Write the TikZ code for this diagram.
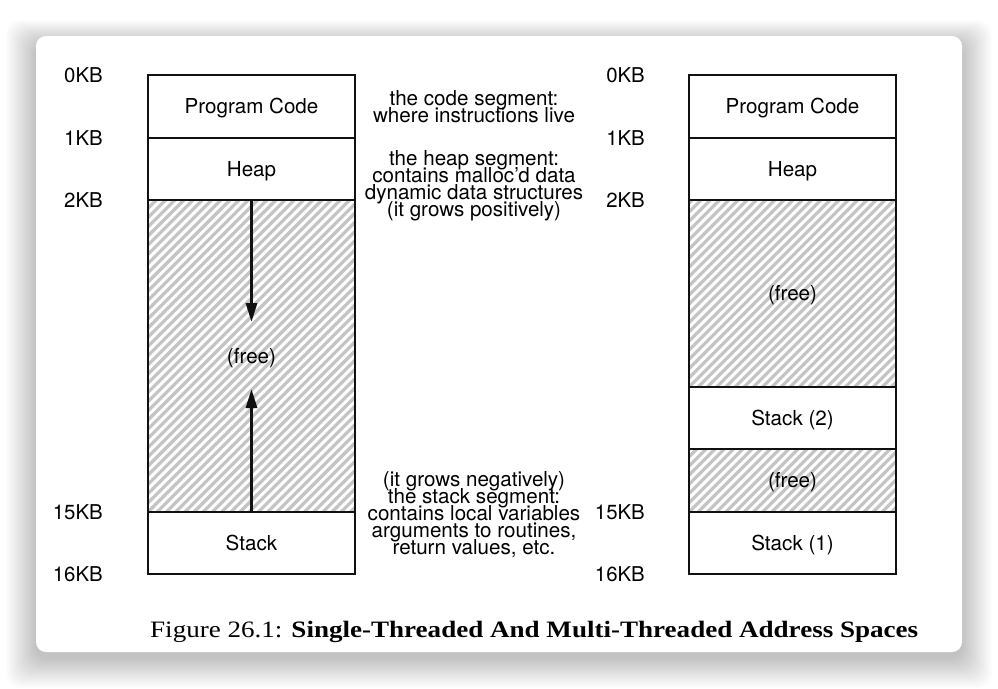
\documentclass[tikz,border=0pt]{standalone}
\usepackage{fontspec}
\setmainfont{TeX Gyre Heros}
\newfontfamily\capfont{Liberation Serif}
\usetikzlibrary{arrows.meta}
\definecolor{hatch}{HTML}{C4C4C4}
\definecolor{ink}{HTML}{111111}
\tikzset{
  seg/.style={draw=ink, line width=1.8pt, minimum width=207pt, inner sep=0pt, text height=14.5pt, text depth=0pt, font=\fontsize{20.6}{20}\selectfont},
  hatchline/.style={draw=hatch, line width=3.2pt},
  kb/.style={anchor=east, inner sep=0pt, text height=14.5pt, text depth=0pt, font=\fontsize{20.4}{20}\selectfont},
  note/.style={align=center, anchor=base, inner sep=0pt, font={\fontsize{20.6}{17}\selectfont\lineskiplimit=-30pt\lineskip=0pt}},
  growarrow/.style={line width=3pt, draw=ink, -{Triangle[length=19pt,width=11pt]}}
}
\newcommand{\hatchbox}[4]{% x1 y1 x2 y2 (y1 top, y2 bottom)
  \begin{scope}
    \clip (#1,#2) rectangle (#3,#4);
    \pgfmathsetmacro{\hh}{#4-#2}
    \foreach \k in {-40,...,40}{
      \draw[hatchline] ({#1+9.2*\k},#4) -- ++(\hh+60,-\hh-60);
    }
  \end{scope}
}
\begin{document}
\begin{tikzpicture}[x=1pt,y=-1pt]
\useasboundingbox (0,0) rectangle (998,688);
\fill[white] (0,0) rectangle (998,688);
% shadow
\foreach \i in {1,...,30}{
  \fill[black, opacity=0.0085, rounded corners=14] (36-\i,36-0.8*\i+8) rectangle (962+\i,652+\i+6);
}
\fill[white, rounded corners=10] (36,36) rectangle (962,652);

% hatching of free regions
\hatchbox{148}{200}{355}{512}
\hatchbox{689}{200}{896}{387}
\hatchbox{689}{449}{896}{512}

% left column
\node[seg, minimum height=63pt] (lcode) at (251.5,106.5) {Program Code};
\node[seg, minimum height=62pt] (lheap) at (251.5,169) {Heap};
\node[seg, minimum height=312pt] (lfree) at (251.5,356) {(free)};
\node[seg, minimum height=62pt] (lstack) at (251.5,543) {Stack};

\node[kb] (l0) at (103,75.5) {0KB};
\node[kb] (l1) at (103,138) {1KB};
\node[kb] (l2) at (103,200) {2KB};
\node[kb] (l15) at (103,512) {15KB};
\node[kb] (l16) at (103,574) {16KB};

\coordinate (downtip) at (251.5,322);
\coordinate (uptip) at (251.5,389);
\draw[growarrow] (lfree.north) -- (downtip);
\draw[growarrow] (lfree.south) -- (uptip);

% notes (anchored at baseline of last line)
\node[note] (ncode) at (474,122) {the code segment:\\where instructions live};
\node[note] (nheap) at (474,216) {the heap segment:\\contains malloc'd data\\dynamic data structures\\(it grows positively)};
\node[note] (nstack) at (474,554) {(it grows negatively)\\the stack segment:\\contains local variables\\arguments to routines,\\return values, etc.};

% right column
\node[seg, minimum height=63pt] (rcode) at (792.5,106.5) {Program Code};
\node[seg, minimum height=62pt] (rheap) at (792.5,169) {Heap};
\node[seg, minimum height=187pt] (rfree1) at (792.5,293.5) {(free)};
\node[seg, minimum height=62pt] (rstack2) at (792.5,418) {Stack (2)};
\node[seg, minimum height=63pt] (rfree2) at (792.5,480.5) {(free)};
\node[seg, minimum height=62pt] (rstack1) at (792.5,543) {Stack (1)};

\node[kb] (r0) at (645,75.5) {0KB};
\node[kb] (r1) at (645,138) {1KB};
\node[kb] (r2) at (645,200) {2KB};
\node[kb] (r15) at (645,512) {15KB};
\node[kb] (r16) at (645,574) {16KB};

% caption
\node[anchor=base west, inner sep=0pt] (cap) at (150,637)
  {\resizebox{768pt}{\height}{\capfont\fontsize{23.5}{24}\selectfont Figure 26.1: \textbf{Single-Threaded And Multi-Threaded Address Spaces}}};
\end{tikzpicture}
\end{document}
